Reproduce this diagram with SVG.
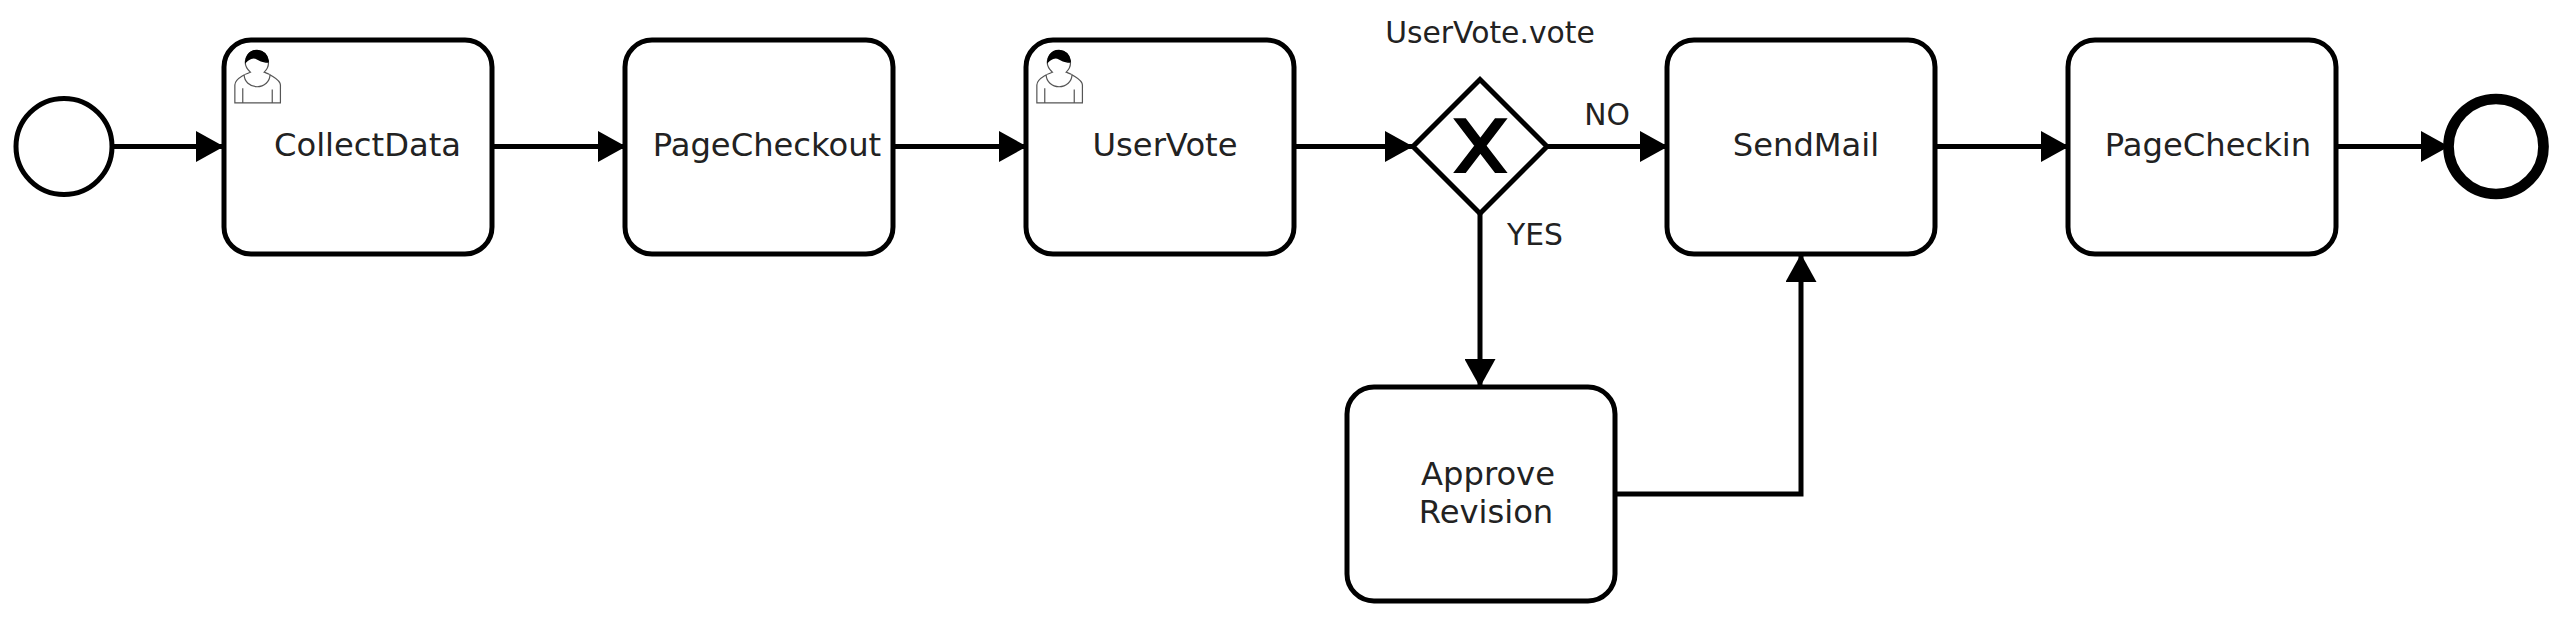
<svg xmlns="http://www.w3.org/2000/svg" width="2560" height="617" viewBox="0 0 2560 617">
<style>
.task{fill:#fff;stroke:#000;stroke-width:5}
.ev{fill:#fff;stroke:#000}
.t{font-family:"DejaVu Sans",sans-serif;font-size:32.200px;fill:#222;text-anchor:middle}
.l{font-family:"DejaVu Sans",sans-serif;font-size:29.800px;fill:#222;text-anchor:middle}
.c{fill:none;stroke:#000;stroke-width:5;marker-end:url(#arr)}
.u{fill:#fff;stroke:#555;stroke-width:.45}
</style>
<defs>
<marker id="arr" markerUnits="userSpaceOnUse" viewBox="0 0 28 31" refX="28" refY="15.500" markerWidth="28" markerHeight="31" orient="auto"><path d="M0 0L28 15.500L0 31Z" fill="#000"/></marker>
<g id="user">
<path class="u" d="m 15,12 c 0.909,-0.845 1.594,-2.049 1.594,-3.385 0,-2.554 -1.805,-4.622 -4.357,-4.622 -2.552,0 -4.288,2.068 -4.288,4.622 0,1.348 0.974,2.562 1.896,3.405 -0.529,0.187 -5.669,2.097 -5.794,4.756 v 6.718 h 17 v -6.718 c 0,-2.298 -5.528,-4.595 -6.051,-4.776 z m -8,6 l 0,5.500 m 11,0 l 0,-5"/>
<path class="u" d="m 15,12 m 2.162,1.009 c 0,2.447 -2.158,4.431 -4.821,4.431 -2.665,0 -4.822,-1.981 -4.822,-4.431"/>
<path d="m 15,12 m -6.900,-3.800 c 0,0 2.251,-2.358 4.274,-1.177 2.024,1.181 4.221,1.537 4.124,0.965 -0.098,-0.570 -0.117,-3.791 -4.191,-4.136 -3.575,0.001 -4.208,3.367 -4.207,4.348 z" fill="#000" stroke="#000" stroke-width=".5"/>
</g>
</defs>
<rect width="2560" height="617" fill="#fff"/>
<g id="connectors">
<path class="c" d="M113 146.500H224"/>
<path class="c" d="M492 146.500H626"/>
<path class="c" d="M893 146.500H1027"/>
<path class="c" d="M1295 146.500H1413"/>
<path class="c" d="M1547 146.500H1668"/>
<path class="c" d="M1480 213V387"/>
<path class="c" d="M1615 494H1801V254"/>
<path class="c" d="M1936 146.500H2069"/>
<path class="c" d="M2337 146.500H2449"/>
</g>
<g id="start"><circle class="ev" cx="64" cy="146.500" r="48" stroke-width="5"/></g>
<g id="CollectData"><rect class="task" x="224" y="40" width="268" height="214" rx="27"/><use href="#user" transform="translate(224 40) scale(2.68)"/><text class="t" x="367.500" y="156">CollectData</text></g>
<g id="PageCheckout"><rect class="task" x="625" y="40" width="268" height="214" rx="27"/><text class="t" x="767" y="156">PageCheckout</text></g>
<g id="UserVote"><rect class="task" x="1026" y="40" width="268" height="214" rx="27"/><use href="#user" transform="translate(1026 40) scale(2.68)"/><text class="t" x="1165" y="156">UserVote</text></g>
<g id="gateway">
<path d="M1480 79.500L1547 146.500L1480 213.500L1413 146.500Z" fill="#fff" stroke="#000" stroke-width="5"/>
<path transform="translate(1413 79.500) scale(2.68)" d="m 16,15 7.429,9.714 -7.429,9.714 3.429,0 5.714,-7.464 5.714,7.464 3.429,0 -7.429,-9.714 7.429,-9.714 -3.429,0 -5.714,7.464 -5.714,-7.464 -3.429,0 z" fill="#000" stroke="#000" stroke-width="1"/>
<text class="l" x="1490" y="43">UserVote.vote</text>
</g>
<g id="edge-labels">
<text class="l" x="1607" y="125">NO</text>
<text class="l" x="1535" y="245">YES</text>
</g>
<g id="SendMail"><rect class="task" x="1667" y="40" width="268" height="214" rx="27"/><text class="t" x="1806" y="156">SendMail</text></g>
<g id="PageCheckin"><rect class="task" x="2068" y="40" width="268" height="214" rx="27"/><text class="t" x="2208" y="156">PageCheckin</text></g>
<g id="Approve"><rect class="task" x="1347" y="387" width="268" height="214" rx="27"/><text class="t" x="1488" y="485">Approve</text><text class="t" x="1486" y="523">Revision</text></g>
<g id="end"><circle class="ev" cx="2496" cy="146.500" r="47.500" stroke-width="10.700"/></g>
</svg>
